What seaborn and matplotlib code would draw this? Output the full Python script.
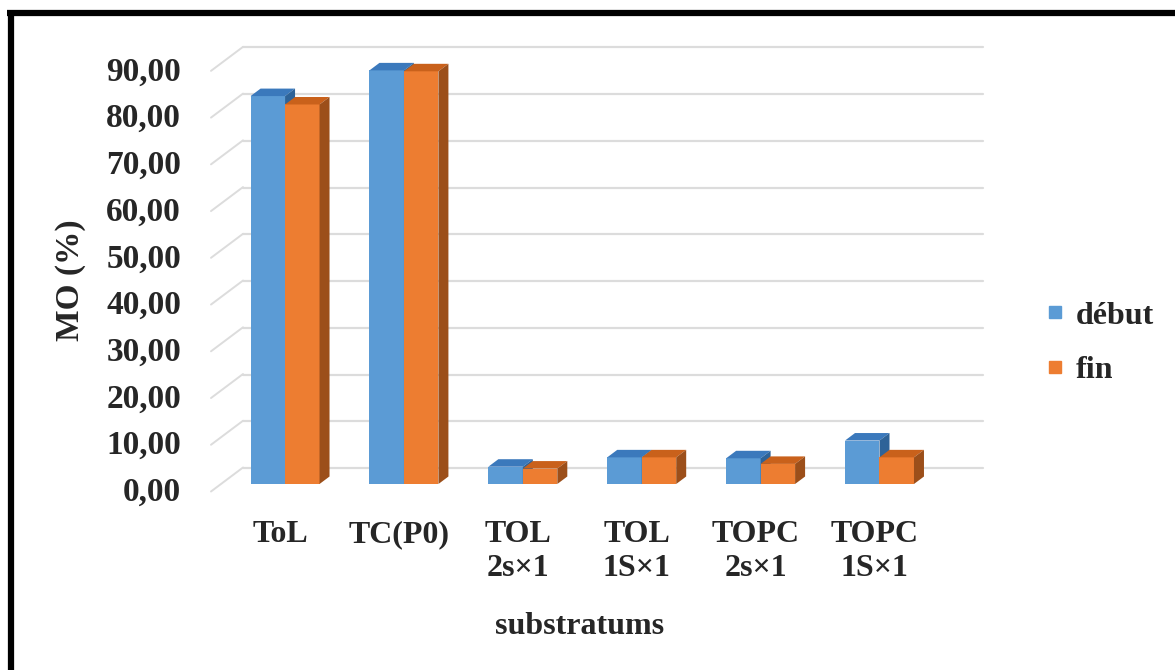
import matplotlib
matplotlib.use("Agg")
import matplotlib.pyplot as plt
import numpy as np
import pandas as pd
import seaborn as sns
from matplotlib.patches import Polygon
from matplotlib.lines import Line2D
from matplotlib.transforms import ScaledTranslation

# ---- data -------------------------------------------------------------
substrates = ["ToL", "TC(P0)", "TOL\n2s×1", "TOL\n1S×1", "TOPC\n2s×1", "TOPC\n1S×1"]
mo_debut = [83.0, 88.5, 3.7, 5.7, 5.5, 9.3]
mo_fin = [81.2, 88.3, 3.3, 5.7, 4.3, 5.7]
periods = ["début", "fin"]
y_ticks = [0, 10, 20, 30, 40, 50, 60, 70, 80, 90]
y_tick_labels = [f"{v:.2f}".replace(".", ",") for v in y_ticks]

df = pd.DataFrame({
    "substratum": substrates * 2,
    "MO": mo_debut + mo_fin,
    "période": [periods[0]] * len(substrates) + [periods[1]] * len(substrates),
})

# ---- style ------------------------------------------------------------
front_colors = ["#5B9BD5", "#ED7D31"]
top_colors = ["#3B79BC", "#C9611B"]
side_colors = ["#2E6398", "#9C4F1A"]
grid_color = "#DCDCDC"

sns.set_theme(style="white")
plt.rcParams["font.family"] = ["Liberation Serif", "DejaVu Serif"]
plt.rcParams["font.weight"] = "bold"

W, H = 1175, 670
fig = plt.figure(figsize=(W / 100, H / 100), dpi=100)
fig.patch.set_facecolor("white")

# plotting plane (pixel layout)
ax_left, ax_right = 213, 950
ax_base, ax_top = 484, 40
ax = fig.add_axes([ax_left / W, 1 - ax_base / H,
                   (ax_right - ax_left) / W, (ax_base - ax_top) / H])

sns.barplot(data=df, x="substratum", y="MO", hue="période",
            palette=front_colors, width=0.58, saturation=1,
            errorbar=None, linewidth=0, legend=False, ax=ax)

xlim = (-0.606, 5.593)
ylim = (0, 95)
ax.set_xlim(*xlim)
ax.set_ylim(*ylim)
ppx = (ax_right - ax_left) / (xlim[1] - xlim[0])
ppy = (ax_base - ax_top) / (ylim[1] - ylim[0])


def px2x(px):
    return xlim[0] + (px - ax_left) / ppx


# back wall and side wall grid
wall_dy = 16 / ppy
for v in y_ticks:
    ax.plot([px2x(243), px2x(983)], [v + wall_dy, v + wall_dy],
            color=grid_color, lw=1.6, clip_on=False, zorder=0)
    ax.plot([px2x(211), px2x(243)], [v - 7.5 / ppy, v + 16.5 / ppy],
            color=grid_color, lw=1.4, clip_on=False, zorder=0)

# 3-D faces of the bars
dx = 10 / ppx
dy = 7.5 / ppy
for k, container in enumerate(ax.containers):
    z = 2 + k
    for bar in container:
        bar.set_zorder(z)
        x0 = bar.get_x()
        x1 = x0 + bar.get_width()
        h = bar.get_height()
        top = Polygon([(x0, h), (x1, h), (x1 + dx, h + dy), (x0 + dx, h + dy)],
                      closed=True, facecolor=top_colors[k], edgecolor="none",
                      zorder=z + 0.1, clip_on=False)
        side = Polygon([(x1, 0), (x1 + dx, dy), (x1 + dx, h + dy), (x1, h)],
                       closed=True, facecolor=side_colors[k], edgecolor="none",
                       zorder=z + 0.1, clip_on=False)
        ax.add_patch(top)
        ax.add_patch(side)

# axes decoration
for s in ax.spines.values():
    s.set_visible(False)
ax.set_facecolor("none")
ax.grid(False)

ax.set_yticks(y_ticks)
ax.set_yticklabels(y_tick_labels, fontsize=24, fontweight="bold")
ax.tick_params(axis="y", length=0, pad=23)
shift = ScaledTranslation(0, -0.05, fig.dpi_scale_trans)
for lab in ax.get_yticklabels():
    lab.set_transform(lab.get_transform() + shift)

ax.set_xticks(range(len(substrates)))
ax.set_xticklabels(substrates, fontsize=23, fontweight="bold", linespacing=1.2)
ax.tick_params(axis="x", length=0, pad=26)
xshift = ScaledTranslation(-0.05, 0, fig.dpi_scale_trans)
for lab in ax.get_xticklabels():
    lab.set_transform(lab.get_transform() + xshift)

ax.set_ylabel("MO (%)", fontsize=24, fontweight="bold")
ax.yaxis.set_label_coords((71 - ax_left) / (ax_right - ax_left),
                          (ax_base - 280) / (ax_base - ax_top))
ax.yaxis.label.set_va("center")
ax.set_xlabel("substratums", fontsize=23, fontweight="bold")
ax.xaxis.set_label_coords((580 - ax_left) / (ax_right - ax_left),
                          (ax_base - 626) / (ax_base - ax_top))
ax.xaxis.label.set_va("center")

# legend
handles = [Line2D([], [], marker="s", ls="", color=c, markersize=9)
           for c in front_colors]
fig.legend(handles, periods, loc="center left",
           bbox_to_anchor=(1047 / W, 1 - 343 / H), frameon=False,
           prop={"family": "Liberation Serif", "weight": "bold", "size": 23},
           handlelength=0.5, handletextpad=0.4, labelspacing=0.78,
           borderpad=0, borderaxespad=0)

# frame around the figure (top and left edges)
fig.add_artist(Line2D([7 / W, 1], [1 - 13 / H, 1 - 13 / H], color="black",
                      lw=4.5, solid_capstyle="butt"))
fig.add_artist(Line2D([10.5 / W, 10.5 / W], [1 - 10 / H, 0], color="black",
                      lw=4.5, solid_capstyle="butt"))

fig.savefig("out.png", dpi=100, facecolor="white")
